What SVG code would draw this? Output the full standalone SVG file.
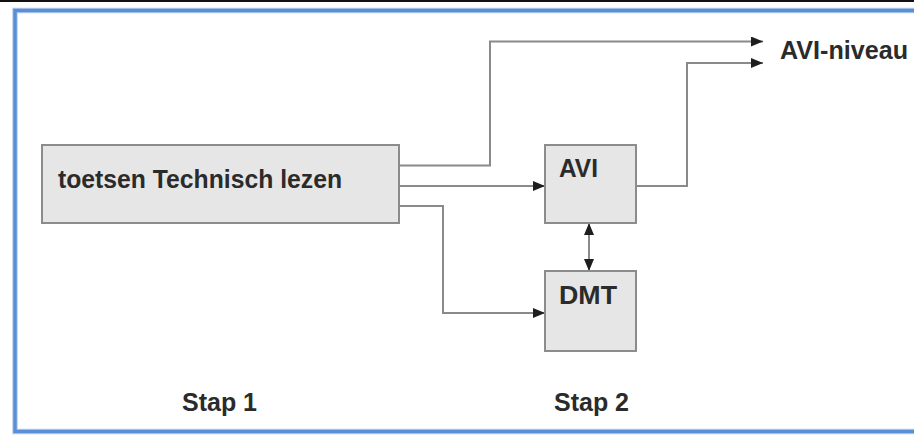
<svg xmlns="http://www.w3.org/2000/svg" width="914" height="435" viewBox="0 0 914 435">
<defs>
<style>
.box{fill:#e6e6e6;stroke:#8c8c8c;stroke-width:2}
.lbl{font-family:"Liberation Sans",Arial,sans-serif;font-weight:bold;font-size:25px;fill:#2b2b2b}
.ln{fill:none;stroke:#8a8a8a;stroke-width:2}
</style>
<marker id="ah" markerUnits="userSpaceOnUse" markerWidth="13" markerHeight="11" refX="12" refY="5" orient="auto-start-reverse" viewBox="0 0 13 11">
<path d="M0,0 L12,5 L0,10 z" fill="#1e1e1e"/>
</marker>
</defs>
<rect x="0" y="0" width="914" height="435" fill="#ffffff"/>
<rect x="0" y="0" width="914" height="2" fill="#111111"/>
<rect x="15" y="10.5" width="905" height="421" fill="none" stroke="#b9d0ef" stroke-width="5.5"/>
<rect x="15" y="10.5" width="905" height="421" fill="none" stroke="#5a8fd6" stroke-width="3.5"/>
<g id="connectors">
<path class="ln" d="M399,165.5 H490 V41.5 H763" marker-end="url(#ah)"/>
<path class="ln" d="M399,186 H545" marker-end="url(#ah)"/>
<path class="ln" d="M399,206 H443 V313 H545" marker-end="url(#ah)"/>
<path class="ln" d="M636,186 H687 V63 H763" marker-end="url(#ah)"/>
<path class="ln" d="M589,223 V271" marker-start="url(#ah)" marker-end="url(#ah)"/>
</g>
<g id="node-toetsen">
<rect class="box" x="42" y="145" width="357" height="78"/>
<text class="lbl" x="58" y="188" textLength="284" lengthAdjust="spacingAndGlyphs">toetsen Technisch lezen</text>
</g>
<g id="node-avi">
<rect class="box" x="545" y="145" width="91" height="78"/>
<text class="lbl" x="559" y="177" textLength="39" lengthAdjust="spacingAndGlyphs">AVI</text>
</g>
<g id="node-dmt">
<rect class="box" x="545" y="271" width="91" height="80"/>
<text class="lbl" x="559" y="304" textLength="58" lengthAdjust="spacingAndGlyphs">DMT</text>
</g>
<g id="node-avi-niveau">
<text class="lbl" x="780" y="59" textLength="128" lengthAdjust="spacingAndGlyphs">AVI-niveau</text>
</g>
<g id="label-stap1">
<text class="lbl" x="182" y="411" textLength="75" lengthAdjust="spacingAndGlyphs">Stap 1</text>
</g>
<g id="label-stap2">
<text class="lbl" x="554" y="411" textLength="75" lengthAdjust="spacingAndGlyphs">Stap 2</text>
</g>
</svg>
